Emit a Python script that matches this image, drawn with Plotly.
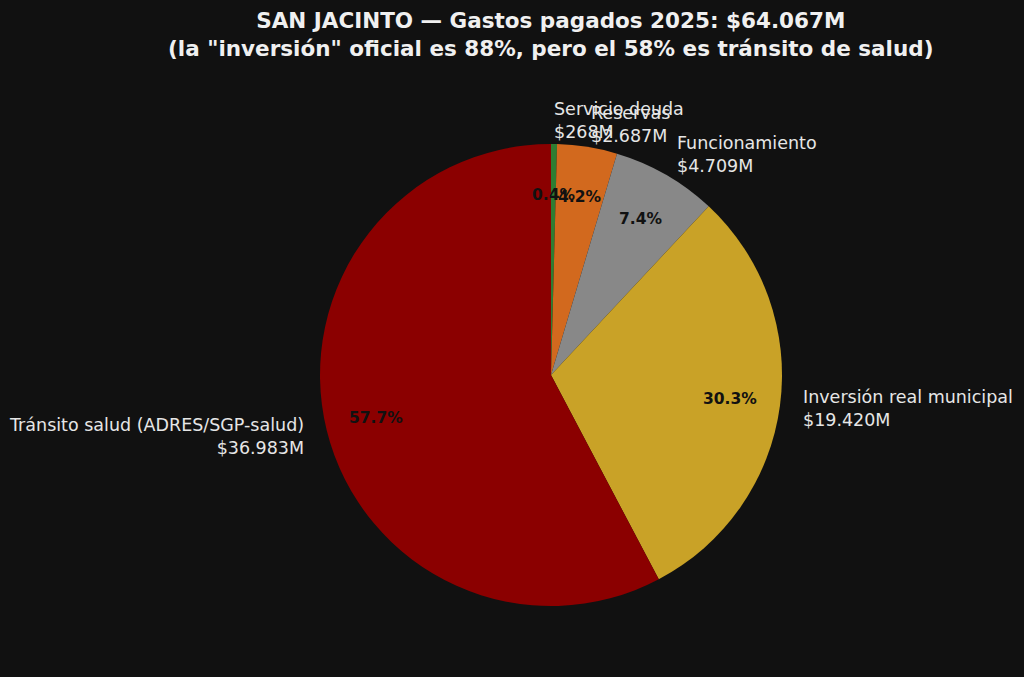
import math
import plotly.graph_objects as go

# gastos pagados 2025, millones de pesos
categorias = ["Servicio deuda", "Reservas", "Funcionamiento",
              "Inversión real municipal", "Tránsito salud (ADRES/SGP-salud)"]
montos = [268, 2687, 4709, 19420, 36983]
montos_txt = ["$268M", "$2.687M", "$4.709M", "$19.420M", "$36.983M"]
colores = ["#2e7d32", "#d2691e", "#888888", "#c9a227", "#8b0000"]

BG = "#111111"
W, H = 1024, 677
cx, cy, r = 551, 375, 231  # centro y radio del pie en px

dom_x = [(cx - r) / W, (cx + r) / W]
dom_y = [1 - (cy + r) / H, 1 - (cy - r) / H]

fig = go.Figure()
fig.add_trace(go.Pie(
    labels=categorias, values=montos,
    marker=dict(colors=colores, line=dict(width=0)),
    sort=False, direction="clockwise", rotation=0,
    textinfo="none", hoverinfo="label+value+percent",
    showlegend=False,
    domain=dict(x=dom_x, y=dom_y),
))

# etiquetas estilo matplotlib: nombre afuera (1.1r), porcentaje adentro
total = sum(montos)
acum = 0
anns = []
for cat, v, txt in zip(categorias, montos, montos_txt):
    mid = 90 - 360 * (acum + v / 2) / total
    acum += v
    c, s = math.cos(math.radians(mid)), math.sin(math.radians(mid))
    lado = "left" if c >= 0 else "right"
    anns.append(dict(
        x=(cx + 1.1 * r * c) / W, y=1 - (cy - 1.1 * r * s) / H,
        xref="paper", yref="paper", xanchor=lado, yanchor="middle", align=lado,
        text=cat + "<br>" + txt, showarrow=False, borderpad=0, borderwidth=0,
        font=dict(family="DejaVu Sans", size=17.5, color="#e6e6e6"),
    ))
    anns.append(dict(
        x=(cx + 0.78 * r * c) / W, y=1 - (cy - 0.78 * r * s) / H,
        xref="paper", yref="paper", xanchor="center", yanchor="middle",
        text="<b>%.1f%%</b>" % (100 * v / total), showarrow=False,
        font=dict(family="DejaVu Sans", size=15.5, color="#111111"),
    ))

anns.append(dict(
    x=cx / W, y=1 - 35 / H, xref="paper", yref="paper",
    xanchor="center", yanchor="middle", showarrow=False,
    text="<b>SAN JACINTO — Gastos pagados 2025: $64.067M<br>"
         "(la \"inversión\" oficial es 88%, pero el 58% es tránsito de salud)</b>",
    font=dict(family="DejaVu Sans", size=21.5, color="#f0f0f0"),
))

fig.update_layout(
    width=W, height=H,
    paper_bgcolor=BG, plot_bgcolor=BG,
    margin=dict(l=0, r=0, t=0, b=0),
    annotations=anns,
)

fig.write_html("out.html", config={"displayModeBar": False},
               post_script="document.body.style.margin='0';"
               "document.body.style.background='#111111';")
